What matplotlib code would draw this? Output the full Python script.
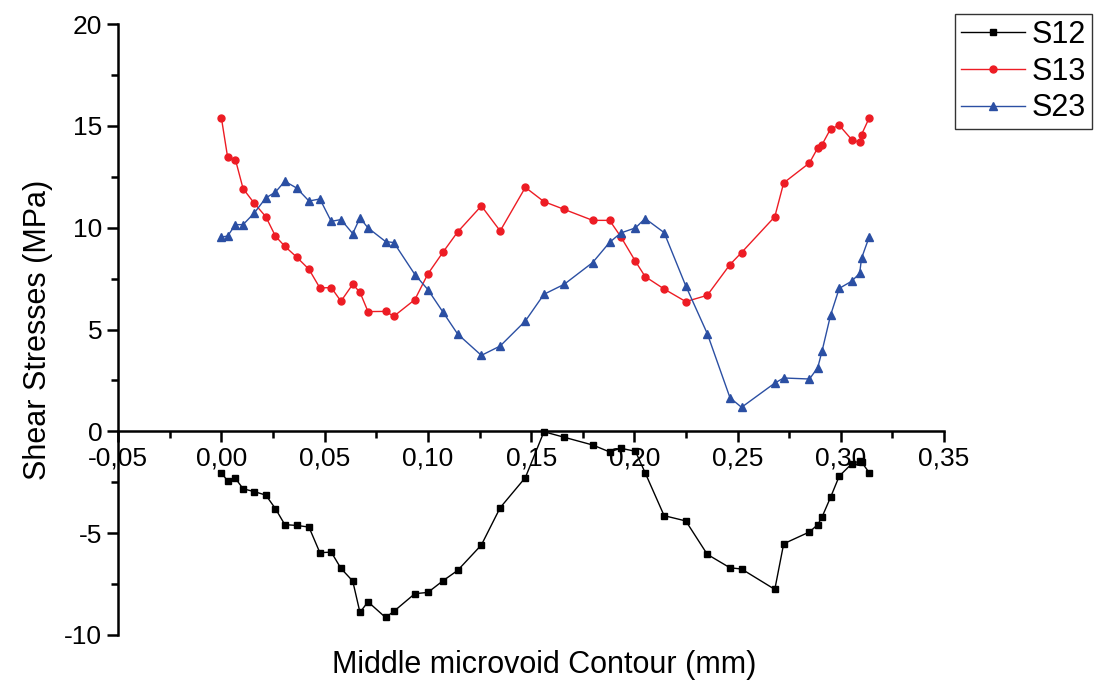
import matplotlib
matplotlib.use("Agg")
import matplotlib.pyplot as plt
from matplotlib.ticker import MultipleLocator, FuncFormatter

x_mm = [0.0, 0.003, 0.0068, 0.0105, 0.0159, 0.0215, 0.0262, 0.0307, 0.0364, 0.0424,
        0.0477, 0.0532, 0.0579, 0.0636, 0.0671, 0.071, 0.0795, 0.0835, 0.0937, 0.1,
        0.1074, 0.1144, 0.1259, 0.135, 0.1472, 0.1562, 0.166, 0.1798, 0.188, 0.1934,
        0.2005, 0.2052, 0.2144, 0.2249, 0.2353, 0.2463, 0.2519, 0.268, 0.2723, 0.2848,
        0.2888, 0.2909, 0.295, 0.2992, 0.3052, 0.3091, 0.31, 0.3137]

s12 = [-2.03, -2.44, -2.31, -2.82, -2.96, -3.13, -3.8, -4.58, -4.62, -4.7,
       -5.96, -5.93, -6.73, -7.35, -8.89, -8.37, -9.14, -8.84, -7.97, -7.91,
       -7.33, -6.83, -5.58, -3.75, -2.27, -0.02, -0.29, -0.67, -1.01, -0.83,
       -0.98, -2.03, -4.14, -4.4, -6.04, -6.7, -6.76, -7.76, -5.52, -4.94,
       -4.58, -4.2, -3.24, -2.2, -1.6, -1.45, -1.5, -2.03]

s13 = [15.39, 13.47, 13.34, 11.92, 11.2, 10.54, 9.58, 9.09, 8.56, 7.96,
       7.04, 7.06, 6.39, 7.22, 6.83, 5.88, 5.89, 5.65, 6.47, 7.73,
       8.81, 9.79, 11.07, 9.84, 11.98, 11.28, 10.9, 10.36, 10.36, 9.56,
       8.35, 7.6, 6.99, 6.37, 6.68, 8.19, 8.78, 10.54, 12.2, 13.18,
       13.92, 14.08, 14.85, 15.03, 14.33, 14.19, 14.57, 15.39]

s23 = [9.54, 9.59, 10.15, 10.15, 10.72, 11.46, 11.75, 12.28, 11.95, 11.31,
       11.41, 10.31, 10.4, 9.71, 10.48, 9.99, 9.32, 9.27, 7.7, 6.96,
       5.84, 4.78, 3.73, 4.19, 5.42, 6.73, 7.22, 8.29, 9.28, 9.74,
       9.99, 10.45, 9.76, 7.14, 4.8, 1.65, 1.18, 2.37, 2.62, 2.57,
       3.13, 3.95, 5.7, 7.02, 7.37, 7.76, 8.5, 9.54]

series_names = ["S12", "S13", "S23"]

plt.rcParams['font.family'] = ['Liberation Sans', 'DejaVu Sans']

fig = plt.figure(figsize=(10.94, 6.87), dpi=100)
ax = fig.add_axes([0.108, 0.0757, 0.755, 0.8893])

ax.plot(x_mm, s12, color='black', lw=1.0, marker='s', ms=4.5, label=series_names[0])
ax.plot(x_mm, s13, color='#ED1C24', lw=1.0, marker='o', ms=5, label=series_names[1])
ax.plot(x_mm, s23, color='#2B4FA3', lw=1.0, marker='^', ms=6, label=series_names[2])

ax.set_xlim(-0.05, 0.35)
ax.set_ylim(-10, 20)

ax.spines['top'].set_visible(False)
ax.spines['right'].set_visible(False)
ax.spines['bottom'].set_position(('data', 0))
ax.spines['left'].set_linewidth(1.8)
ax.spines['bottom'].set_linewidth(1.8)

ax.xaxis.set_major_locator(MultipleLocator(0.05))
ax.xaxis.set_minor_locator(MultipleLocator(0.025))
ax.yaxis.set_major_locator(MultipleLocator(5))
ax.yaxis.set_minor_locator(MultipleLocator(2.5))
ax.xaxis.set_major_formatter(FuncFormatter(lambda v, p: f"{v:.2f}".replace('.', ',').replace('-0,00', '0,00')))
ax.yaxis.set_major_formatter(FuncFormatter(lambda v, p: f"{int(round(v))}"))

ax.tick_params(axis='both', which='major', direction='out', length=8, width=1.8, labelsize=19)
ax.tick_params(axis='both', which='minor', direction='out', length=5, width=1.8)
ax.tick_params(axis='x', which='major', pad=3)

ax.set_ylabel("Shear Stresses (MPa)", fontsize=22, labelpad=8)
fig.text(0.497, 0.032, "Middle microvoid Contour (mm)", fontsize=22, ha='center', va='center')

leg = fig.legend(loc='upper left', bbox_to_anchor=(0.873, 0.980), fontsize=22,
                 handlelength=2.1, handletextpad=0.2, borderpad=0.2, labelspacing=0.22,
                 borderaxespad=0, fancybox=False, frameon=True, edgecolor='black',
                 numpoints=1)
leg.get_frame().set_linewidth(1.0)

fig.savefig("out.png", dpi=100)
